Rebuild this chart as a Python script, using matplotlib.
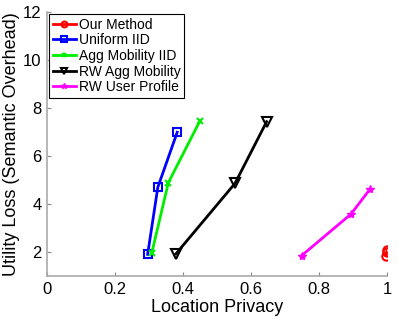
import matplotlib
matplotlib.use("Agg")
import matplotlib.pyplot as plt

plt.rcParams['font.family'] = ['Liberation Sans', 'DejaVu Sans']

labels = ["Our Method", "Uniform IID", "Agg Mobility IID", "RW Agg Mobility", "RW User Profile"]

ours_x = [0.998, 1.0, 1.0]
ours_y = [1.85, 2.0, 2.1]

uniform_x = [0.296, 0.326, 0.383]
uniform_y = [1.90, 4.70, 6.99]

aggiid_x = [0.308, 0.357, 0.450]
aggiid_y = [1.95, 4.89, 7.47]

rwagg_x = [0.379, 0.553, 0.646]
rwagg_y = [1.92, 4.86, 7.43]

rwuser_x = [0.749, 0.894, 0.950]
rwuser_y = [1.85, 3.58, 4.62]

xticks = [0, 0.2, 0.4, 0.6, 0.8, 1]
yticks = [2, 4, 6, 8, 10, 12]


def main():
    fig = plt.figure(figsize=(3.99, 3.16), dpi=100)
    ax = fig.add_axes([47 / 399, 40 / 316, 340 / 399, 264 / 316])

    ax.plot(ours_x, ours_y, color='red', marker='o', mfc='none', mew=1.5, ms=6, lw=2, label=labels[0])
    ax.plot(uniform_x, uniform_y, color='blue', marker='s', mfc='none', mew=1.5, ms=5.5, lw=2, label=labels[1])
    ax.plot(aggiid_x, aggiid_y, color='#00ee00', marker='x', mew=1.5, ms=5, lw=2, label=labels[2])
    ax.plot(rwagg_x, rwagg_y, color='black', marker='v', mfc='none', mew=1.5, ms=7, lw=2, label=labels[3])
    ax.plot(rwuser_x, rwuser_y, color='magenta', marker='*', ms=6, lw=2, label=labels[4])

    ax.set_xlim(0, 1)
    ax.set_ylim(1, 12)
    ax.set_xticks(xticks)
    ax.set_xticklabels(["0", "0.2", "0.4", "0.6", "0.8", "1"])
    ax.set_yticks(yticks)

    for s in ['top', 'right']:
        ax.spines[s].set_visible(False)
    for s in ['left', 'bottom']:
        ax.spines[s].set_color('#aaaaaa')
        ax.spines[s].set_linewidth(1.2)
    ax.tick_params(direction='in', length=3, color='#888888', labelsize=12, pad=4)

    ax.set_xlabel("Location Privacy", fontsize=13, labelpad=2)
    ax.set_ylabel("Utility Loss (Semantic Overhead)", fontsize=13, labelpad=2)

    leg = ax.legend(loc='upper left', fontsize=10, fancybox=False, framealpha=1,
                    edgecolor='black', borderaxespad=0.15, handlelength=1.7,
                    handletextpad=0.2, labelspacing=0.12, borderpad=0.25,
                    markerscale=0.7)
    leg.get_frame().set_linewidth(0.8)

    fig.savefig("out.png", dpi=100)


if __name__ == "__main__":
    main()
